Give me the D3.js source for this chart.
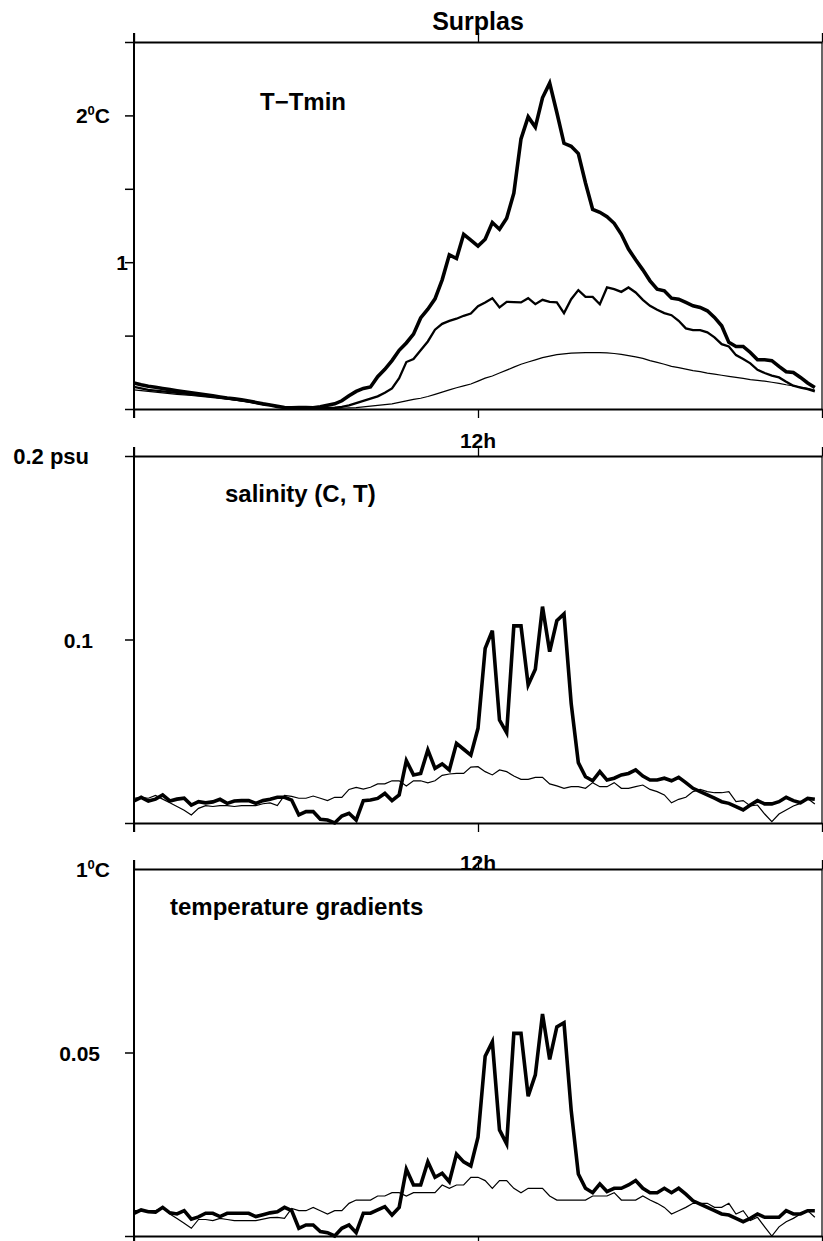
<!DOCTYPE html>
<html>
<head>
<meta charset="utf-8">
<script src="https://cdn.jsdelivr.net/npm/d3@7"></script>
<style>
  body { margin: 0; background: #fff; }
  text { font-family: "Liberation Sans", Arial, sans-serif; font-weight: bold; fill: #000; }
</style>
</head>
<body>
<svg id="chart"></svg>
<script>
// sample times: every 15 minutes over the day
const hours = d3.range(96).map(i => i * 0.25);
const xTicks = [0, 12, 24];

// T - Tmin (deg C), three sensors
const tTminThick = [0.177,0.165,0.155,0.148,0.14,0.132,0.124,0.117,0.11,0.103,0.097,0.09,0.082,0.075,0.07,0.062,0.055,0.045,0.035,0.027,
  0.018,0.01,0.008,0.01,0.01,0.008,0.015,0.025,0.035,0.056,0.09,0.12,0.14,0.15,0.22,0.27,0.33,0.4,0.45,0.51,
  0.62,0.68,0.75,0.88,1.05,1.025,1.19,1.15,1.11,1.156,1.27,1.224,1.3,1.47,1.84,1.99,1.92,2.12,2.22,2.02,
  1.81,1.79,1.74,1.54,1.36,1.34,1.31,1.265,1.19,1.09,1.016,0.948,0.873,0.816,0.805,0.755,0.748,0.726,0.703,0.692,
  0.669,0.624,0.567,0.454,0.426,0.426,0.385,0.335,0.335,0.329,0.29,0.254,0.249,0.215,0.177,0.147];
const tTminMid = [0.15,0.14,0.13,0.125,0.12,0.115,0.11,0.105,0.1,0.095,0.09,0.085,0.08,0.073,0.066,0.058,0.05,0.042,0.034,0.026,
  0.018,0.01,0.006,0.005,0.005,0.005,0.005,0.008,0.01,0.015,0.025,0.04,0.055,0.07,0.086,0.11,0.14,0.21,0.32,0.34,
  0.4,0.46,0.54,0.58,0.6,0.615,0.635,0.65,0.7,0.726,0.755,0.692,0.73,0.728,0.726,0.755,0.714,0.744,0.73,0.726,
  0.653,0.748,0.81,0.764,0.764,0.714,0.828,0.816,0.798,0.828,0.794,0.744,0.703,0.676,0.653,0.639,0.601,0.549,0.537,0.537,
  0.522,0.488,0.442,0.426,0.367,0.34,0.311,0.267,0.245,0.227,0.215,0.186,0.159,0.145,0.136,0.12];
const tTminThin = [0.13,0.125,0.12,0.115,0.11,0.105,0.1,0.096,0.092,0.088,0.083,0.078,0.073,0.067,0.061,0.055,0.048,0.04,0.032,0.024,
  0.016,0.01,0.006,0.004,0.003,0.003,0.003,0.003,0.004,0.005,0.007,0.01,0.015,0.02,0.025,0.03,0.035,0.045,0.055,0.065,
  0.073,0.085,0.1,0.115,0.13,0.145,0.157,0.17,0.19,0.21,0.225,0.245,0.265,0.285,0.305,0.32,0.335,0.35,0.36,0.37,
  0.375,0.38,0.382,0.384,0.385,0.384,0.382,0.378,0.372,0.364,0.355,0.345,0.33,0.318,0.305,0.29,0.282,0.272,0.262,0.255,
  0.245,0.238,0.23,0.222,0.215,0.208,0.2,0.195,0.19,0.182,0.175,0.165,0.158,0.15,0.14,0.129];

// salinity (psu)
const salinityThick = [0.012,0.014,0.012,0.013,0.0153,0.012,0.013,0.0135,0.0098,0.0116,0.011,0.0115,0.0129,0.0107,0.012,0.0122,0.0122,0.0107,0.0122,0.0129,
  0.014,0.014,0.0125,0.0044,0.0062,0.0062,0.002,0.0016,0,0.0038,0.0053,0.0016,0.0122,0.0125,0.0134,0.0161,0.0122,0.0153,0.034,0.0262,
  0.027,0.0398,0.0298,0.0322,0.0289,0.0434,0.0402,0.037,0.0516,0.0952,0.1048,0.0561,0.0492,0.1074,0.1074,0.0752,0.0838,0.1179,0.0934,0.1102,
  0.1139,0.0652,0.0329,0.0252,0.023,0.028,0.0234,0.0244,0.0262,0.027,0.0289,0.0256,0.0234,0.0234,0.0244,0.023,0.0249,0.022,0.0189,0.0171,
  0.0153,0.0135,0.0116,0.0107,0.0089,0.0071,0.0098,0.0122,0.0104,0.0104,0.0116,0.014,0.0122,0.011,0.0134,0.0129];
const salinityThin = [0.0135,0.014,0.0135,0.015,0.013,0.011,0.009,0.007,0.0044,0.008,0.0095,0.009,0.0095,0.0095,0.009,0.0095,0.0095,0.0095,0.0105,0.011,
  0.0095,0.015,0.0145,0.0135,0.0135,0.0147,0.0135,0.0122,0.014,0.014,0.0183,0.0194,0.0185,0.0195,0.0213,0.0213,0.023,0.023,0.0202,0.023,
  0.023,0.0219,0.023,0.026,0.0267,0.027,0.027,0.0305,0.0307,0.028,0.0262,0.0289,0.028,0.0256,0.0238,0.0238,0.0249,0.0249,0.0213,0.0202,
  0.0189,0.0198,0.0198,0.0189,0.022,0.0198,0.0198,0.022,0.0189,0.0189,0.0198,0.0207,0.0183,0.0171,0.0153,0.011,0.0129,0.014,0.0171,0.0183,
  0.0171,0.0165,0.0165,0.0171,0.0116,0.0122,0.0093,0.0098,0.0049,0.0007,0.0049,0.0071,0.0093,0.0107,0.0134,0.0104];

// temperature gradients
const gradThick = [0.0062,0.0071,0.0066,0.0065,0.0078,0.0063,0.006,0.0069,0.0046,0.0052,0.0062,0.0062,0.0053,0.0062,0.0062,0.0062,0.0062,0.0053,0.0058,0.0063,
  0.0066,0.0078,0.0069,0.0021,0.003,0.003,0.0012,0.0009,0,0.0021,0.003,0.0009,0.0062,0.0062,0.0071,0.008,0.0057,0.0078,0.0182,0.0139,
  0.0139,0.0202,0.016,0.0171,0.0148,0.0223,0.0202,0.0191,0.0269,0.049,0.0529,0.0289,0.0251,0.0552,0.0552,0.0381,0.0439,0.0605,0.0481,0.057,
  0.0581,0.0343,0.0169,0.013,0.0118,0.0142,0.0121,0.013,0.013,0.0139,0.0151,0.013,0.0118,0.0118,0.013,0.0118,0.013,0.0114,0.0096,0.0087,
  0.0078,0.0069,0.006,0.0057,0.0048,0.0039,0.0048,0.006,0.0051,0.0051,0.0051,0.0069,0.006,0.006,0.0069,0.0069];
const gradThin = [0.0069,0.0069,0.0069,0.0069,0.0078,0.006,0.0048,0.0035,0.0021,0.0045,0.0045,0.0042,0.0048,0.0045,0.0042,0.0042,0.0042,0.0042,0.0046,0.005,
  0.0051,0.0048,0.0075,0.0069,0.0069,0.0078,0.0069,0.006,0.0069,0.0069,0.0089,0.0098,0.0098,0.0098,0.0109,0.0109,0.0118,0.0118,0.0109,0.0118,
  0.0118,0.0118,0.0118,0.0139,0.013,0.0139,0.0139,0.016,0.016,0.0151,0.013,0.0151,0.0151,0.013,0.0118,0.013,0.013,0.013,0.0109,0.0098,
  0.0098,0.0098,0.0098,0.0098,0.0109,0.0109,0.0109,0.0118,0.0098,0.0098,0.0098,0.0109,0.0098,0.0089,0.0078,0.006,0.0069,0.0078,0.0089,0.0089,
  0.0089,0.0078,0.0078,0.0089,0.006,0.0069,0.0042,0.0051,0.0025,0,0.0025,0.0039,0.0048,0.006,0.0069,0.0051];

const width = 823, height = 1241;
const left = 134, right = 822, panelH = 367;

const svg = d3.select('#chart').attr('width', width).attr('height', height);

const x = d3.scaleLinear().domain([0, 24]).range([left, right]);

const panels = [
  { top: 42, max: 2.5, ticks: [0, 0.5, 1, 1.5, 2, 2.5], label: 'T\u2212Tmin', lx: 260, ly: 110,
    series: [[tTminThin, 1.2], [tTminMid, 2.3], [tTminThick, 3.6]] },
  { top: 456, max: 0.2, ticks: [0, 0.1, 0.2], label: 'salinity (C, T)', lx: 225, ly: 502,
    series: [[salinityThin, 1.2], [salinityThick, 3.6]] },
  { top: 869, max: 0.1, ticks: [0, 0.05], label: 'temperature gradients', lx: 170, ly: 915,
    series: [[gradThin, 1.2], [gradThick, 3.6]] }
];

panels.forEach(p => {
  const bottom = p.top + panelH;
  const y = d3.scaleLinear().domain([0, p.max]).range([bottom, p.top]);
  const g = svg.append('g');

  // left ticks
  g.append('g')
    .attr('transform', `translate(${left},0)`)
    .call(d3.axisLeft(y).tickValues(p.ticks).tickSize(9).tickFormat(''))
    .call(a => a.select('.domain').remove())
    .selectAll('line').attr('stroke-width', 1.5);

  // top and bottom frame with hour ticks
  g.append('g')
    .attr('transform', `translate(0,${p.top})`)
    .call(d3.axisTop(x).tickValues(xTicks).tickSize(9).tickSizeOuter(0).tickFormat(''))
    .call(a => a.select('.domain').attr('stroke-width', 2))
    .selectAll('line').attr('stroke-width', 1.3);
  g.append('g')
    .attr('transform', `translate(0,${bottom})`)
    .call(d3.axisBottom(x).tickValues(xTicks).tickSize(9).tickSizeOuter(0).tickFormat(''))
    .call(a => a.select('.domain').attr('stroke-width', 2))
    .selectAll('line').attr('stroke-width', 1.3);

  // left axis line and thin right border
  g.append('line').attr('x1', left).attr('x2', left).attr('y1', p.top - 9).attr('y2', bottom + 9)
    .attr('stroke', '#000').attr('stroke-width', 2);
  g.append('line').attr('x1', right).attr('x2', right).attr('y1', p.top).attr('y2', bottom)
    .attr('stroke', '#000').attr('stroke-width', 1.2);

  const line = d3.line().x((d, i) => x(hours[i])).y(d => y(d));
  p.series.forEach(([vals, w]) => {
    g.append('path').datum(vals)
      .attr('d', line)
      .attr('fill', 'none')
      .attr('stroke', '#000')
      .attr('stroke-width', w)
      .attr('stroke-linejoin', 'miter');
  });

  g.append('text').attr('x', p.lx).attr('y', p.ly).attr('font-size', 24).text(p.label);
  p.y = y;
});

// title
svg.append('text').attr('x', 478).attr('y', 30).attr('text-anchor', 'middle')
  .attr('font-size', 25).text('Surplas');

// "12h" under the first two panels
svg.append('text').attr('x', 478).attr('y', 448).attr('text-anchor', 'middle').attr('font-size', 21).text('12h');
svg.append('text').attr('x', 478).attr('y', 870).attr('text-anchor', 'middle').attr('font-size', 21).text('12h');

// y labels
function degLabel(xr, yc, num) {
  const t = svg.append('text').attr('x', xr).attr('y', yc + 8).attr('text-anchor', 'end').attr('font-size', 21);
  t.append('tspan').text(num);
  t.append('tspan').attr('font-size', 13).attr('dy', -8).text('0');
  t.append('tspan').attr('dy', 8).text('C');
}
degLabel(110, panels[0].y(2), '2');
svg.append('text').attr('x', 128).attr('y', panels[0].y(1) + 8).attr('text-anchor', 'end').attr('font-size', 21).text('1');
svg.append('text').attr('x', 89).attr('y', panels[1].y(0.2) + 8).attr('text-anchor', 'end').attr('font-size', 22).text('0.2 psu');
svg.append('text').attr('x', 93).attr('y', panels[1].y(0.1) + 8).attr('text-anchor', 'end').attr('font-size', 21).text('0.1');
degLabel(110, panels[2].y(0.1), '1');
svg.append('text').attr('x', 100).attr('y', panels[2].y(0.05) + 8).attr('text-anchor', 'end').attr('font-size', 21).text('0.05');
</script>
</body>
</html>
